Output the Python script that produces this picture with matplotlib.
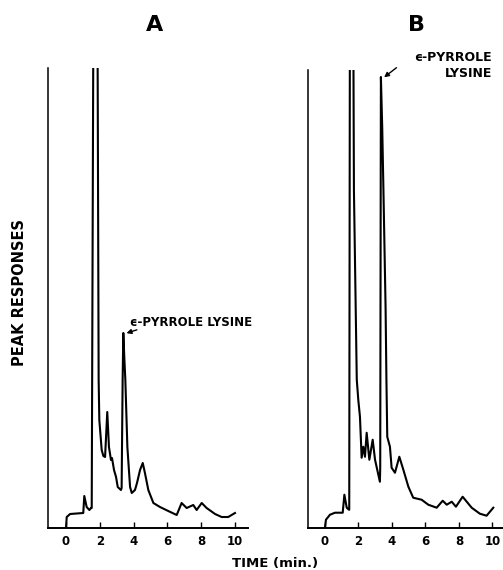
import matplotlib.pyplot as plt

# Chromatogram A (time in min, response in chart units)
time_a = [0.00, 0.04, 0.24, 1.02, 1.08, 1.22, 1.38, 1.48, 1.52, 1.62, 1.86, 1.93, 1.97, 2.11,
          2.21, 2.31, 2.44, 2.54, 2.66, 2.72, 2.84, 2.96, 3.06, 3.25, 3.29, 3.35, 3.39, 3.45,
          3.51, 3.63, 3.79, 3.89, 4.08, 4.20, 4.38, 4.54, 4.67, 4.87, 5.17, 5.56, 6.05, 6.55,
          6.84, 7.14, 7.53, 7.73, 8.03, 8.32, 8.82, 9.21, 9.60, 10.00]
resp_a = [0, 11, 14, 15, 32, 21, 18, 20, 20, 520, 520, 148, 108, 78,
          72, 71, 116, 81, 68, 70, 58, 51, 41, 38, 40, 148, 195, 170,
          148, 81, 41, 35, 38, 45, 58, 65, 55, 38, 25, 21, 17, 13,
          25, 20, 23, 18, 25, 20, 14, 11, 11, 15]

# Chromatogram B
time_b = [0.00, 0.06, 0.30, 0.60, 1.06, 1.16, 1.30, 1.43, 1.45, 1.49, 1.69, 1.73, 1.90, 1.99,
          2.09, 2.19, 2.29, 2.39, 2.49, 2.65, 2.85, 2.99, 3.28, 3.30, 3.34, 3.42, 3.50, 3.62,
          3.67, 3.72, 3.88, 3.98, 4.18, 4.44, 4.68, 4.98, 5.27, 5.77, 6.17, 6.67, 7.03, 7.27,
          7.57, 7.82, 8.22, 8.76, 9.25, 9.65, 10.05]
resp_b = [0, 8, 13, 15, 15, 33, 20, 18, 18, 520, 520, 338, 148, 128,
          111, 70, 81, 71, 95, 68, 88, 68, 46, 60, 451, 400, 330, 220,
          148, 91, 81, 60, 55, 71, 58, 41, 30, 28, 23, 20, 27, 23,
          26, 21, 31, 20, 14, 12, 20]

ticks = [0, 2, 4, 6, 8, 10]
tick_labels = ["0", "2", "4", "6", "8", "10"]
peak_name = "\u03f5-PYRROLE LYSINE"

W, H = 503, 570
fig = plt.figure(figsize=(W / 100, H / 100), dpi=100)


def frac(x0, y0, x1, y1):
    # pixel box -> figure fraction [left, bottom, width, height]
    return [x0 / W, 1 - y1 / H, (x1 - x0) / W, (y1 - y0) / H]


ax_a = fig.add_axes(frac(48.3, 68, 248, 528))
ax_b = fig.add_axes(frac(307.7, 70, 503, 527.7))

for ax, t, r, xl, top in [(ax_a, time_a, resp_a, (-1.05, 10.77), 460),
                          (ax_b, time_b, resp_b, (-1.03, 10.63), 458)]:
    ax.plot(t, r, color="black", lw=1.5, solid_joinstyle="round")
    ax.set_xlim(*xl)
    ax.set_ylim(0, top)
    ax.spines["top"].set_visible(False)
    ax.spines["right"].set_visible(False)
    ax.spines["left"].set_linewidth(1.1)
    ax.spines["bottom"].set_linewidth(1.4)
    ax.set_yticks([])
    ax.set_xticks(ticks)
    ax.set_xticklabels(tick_labels, fontsize=8.5, fontweight="bold")
    ax.tick_params(axis="x", direction="in", length=4.5, width=1, pad=5)
    ax.patch.set_alpha(0)

# annotations
ax_a.text(3.79, 205, peak_name, fontsize=8.5, fontweight="bold", va="center", ha="left")
ax_a.annotate("", xy=(3.42, 194), xytext=(4.35, 199),
              arrowprops=dict(arrowstyle="-|>", color="black", lw=1, mutation_scale=7))

ax_b.text(9.97, 471, peak_name.split(" ")[0], fontsize=9, fontweight="bold",
          va="center", ha="right")
ax_b.text(9.97, 454, peak_name.split(" ")[1], fontsize=9, fontweight="bold",
          va="center", ha="right")
ax_b.annotate("", xy=(3.40, 449), xytext=(4.40, 462), annotation_clip=False,
              arrowprops=dict(arrowstyle="-|>", color="black", lw=1, mutation_scale=7))

fig.text(155 / W, 1 - 25 / H, "A", fontsize=16, fontweight="bold", ha="center", va="center")
fig.text(416 / W, 1 - 25 / H, "B", fontsize=16, fontweight="bold", ha="center", va="center")
fig.text(20 / W, 1 - 292 / H, "PEAK RESPONSES", fontsize=10.5, fontweight="bold",
         rotation=90, ha="center", va="center")
fig.text(275 / W, 1 - 563 / H, "TIME (min.)", fontsize=9.5, fontweight="bold",
         ha="center", va="center")

fig.savefig("out.png", dpi=100)
